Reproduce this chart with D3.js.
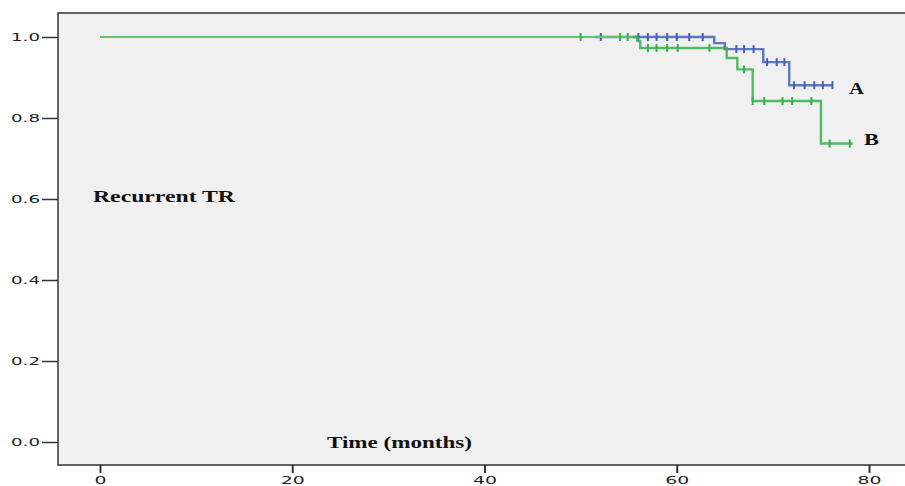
<!DOCTYPE html>
<html>
<head>
<meta charset="utf-8">
<script src="https://cdn.jsdelivr.net/npm/d3@7"></script>
<style>
  body { margin: 0; background: #fff; }
  svg { display: block; }
  .tick-label { font-family: "DejaVu Sans", sans-serif; font-size: 11px; fill: #222; }
  .note { font-family: "Liberation Serif", serif; font-weight: bold; fill: #111; }
</style>
</head>
<body>
<svg id="chart" width="905" height="486"></svg>
<script>
// Kaplan-Meier data (months, survival)
const groupA_times = [0, 63.9, 65.0, 69.0, 71.7];
const groupA_surv = [1.0, 0.985, 0.97, 0.938, 0.881];
const groupA_end = 76.2;
const groupA_censored = [52.1, 56.0, 57.0, 57.9, 59.0, 60.0, 61.3, 62.7, 66.2, 67.0, 68.0, 69.4, 70.4, 71.2, 72.2, 73.3, 74.3, 75.2, 76.2];

const groupB_times = [0, 55.9, 56.2, 65.2, 66.3, 67.9, 75.0];
const groupB_surv = [1.0, 0.99, 0.973, 0.948, 0.92, 0.842, 0.737];
const groupB_end = 78.3;
const groupB_censored = [50.0, 54.1, 54.9, 57.0, 57.9, 59.0, 60.1, 63.4, 67.0, 67.9, 69.1, 71.0, 72.0, 74.0, 75.9, 78.0];

const xTicks = [0, 20, 40, 60, 80];
const yTicks = [0.0, 0.2, 0.4, 0.6, 0.8, 1.0];

const svg = d3.select('#chart');
const x = d3.scaleLinear().domain([0, 80]).range([100, 869]);
const y = d3.scaleLinear().domain([0, 1]).range([442, 37]);

const frame = { left: 58, top: 13, bottom: 465, right: 910 };

// Plot background
svg.append('rect')
    .attr('x', frame.left).attr('y', frame.top)
    .attr('width', frame.right - frame.left)
    .attr('height', frame.bottom - frame.top)
    .attr('fill', '#f0f0f0')
    .attr('stroke', '#333')
    .attr('stroke-width', 1.5);

// Y axis
const yAxis = svg.append('g')
    .attr('transform', `translate(${frame.left},0)`)
    .call(d3.axisLeft(y).tickValues(yTicks).tickFormat(d3.format('.1f')).tickSize(16).tickPadding(2));
yAxis.select('.domain').remove();
yAxis.selectAll('line').attr('stroke', '#333').attr('stroke-width', 1.5);
yAxis.selectAll('text')
    .attr('class', 'tick-label')
    .attr('textLength', 29)
    .attr('lengthAdjust', 'spacingAndGlyphs');

// X axis
const xAxis = svg.append('g')
    .attr('transform', `translate(0,${frame.bottom})`)
    .call(d3.axisBottom(x).tickValues(xTicks).tickFormat(d3.format('d')).tickSize(8).tickPadding(3));
xAxis.select('.domain').remove();
xAxis.selectAll('line').attr('stroke', '#333').attr('stroke-width', 2);
xAxis.selectAll('text')
    .attr('class', 'tick-label')
    .attr('textLength', d => String(d).length * 12)
    .attr('lengthAdjust', 'spacingAndGlyphs');

// Step curve helper
function stepPoints(times, surv, end) {
    const pts = times.map((t, i) => [t, surv[i]]);
    pts.push([end, surv[surv.length - 1]]);
    return pts;
}
function survAt(times, surv, t) {
    let s = surv[0];
    times.forEach((tt, i) => { if (tt <= t) s = surv[i]; });
    return s;
}

const line = d3.line().x(d => x(d[0])).y(d => y(d[1])).curve(d3.curveStepAfter);

function drawGroup(times, surv, end, censored, color, thinColor, startThick, thinWidth) {
    const g = svg.append('g');
    const pts = stepPoints(times, surv, end);
    // thin flat part
    g.append('path')
        .attr('d', line(pts.filter(p => p[0] <= startThick).concat([[startThick, 1.0]])))
        .attr('fill', 'none').attr('stroke', thinColor).attr('stroke-width', thinWidth);
    // thicker part
    const thick = [[startThick, survAt(times, surv, startThick)]].concat(pts.filter(p => p[0] > startThick));
    g.append('path')
        .attr('d', line(thick))
        .attr('fill', 'none').attr('stroke', color).attr('stroke-width', 2.4).attr('opacity', 0.85);
    // censor marks
    g.selectAll('line.censor')
        .data(censored)
        .enter().append('line')
        .attr('class', 'censor')
        .attr('x1', d => x(d)).attr('x2', d => x(d))
        .attr('y1', d => y(survAt(times, surv, d)) - 4)
        .attr('y2', d => y(survAt(times, surv, d)) + 4)
        .attr('stroke', color).attr('stroke-width', 2);
}

drawGroup(groupA_times, groupA_surv, groupA_end, groupA_censored, '#4660b4', '#6d83c8', 51.5, 1);
drawGroup(groupB_times, groupB_surv, groupB_end, groupB_censored, '#35b24a', '#5cc46a', 55.5, 1.8);

// Labels
svg.append('text').attr('class', 'note')
    .attr('x', 93).attr('y', 202).attr('font-size', 16)
    .attr('textLength', 142).attr('lengthAdjust', 'spacingAndGlyphs')
    .text('Recurrent TR');
svg.append('text').attr('class', 'note')
    .attr('x', 327).attr('y', 448).attr('font-size', 16)
    .attr('textLength', 145).attr('lengthAdjust', 'spacingAndGlyphs')
    .text('Time (months)');
svg.append('text').attr('class', 'note')
    .attr('x', 849).attr('y', 94).attr('font-size', 17)
    .attr('textLength', 15).attr('lengthAdjust', 'spacingAndGlyphs')
    .text('A');
svg.append('text').attr('class', 'note')
    .attr('x', 864).attr('y', 145).attr('font-size', 17)
    .attr('textLength', 15).attr('lengthAdjust', 'spacingAndGlyphs')
    .text('B');
</script>
</body>
</html>
